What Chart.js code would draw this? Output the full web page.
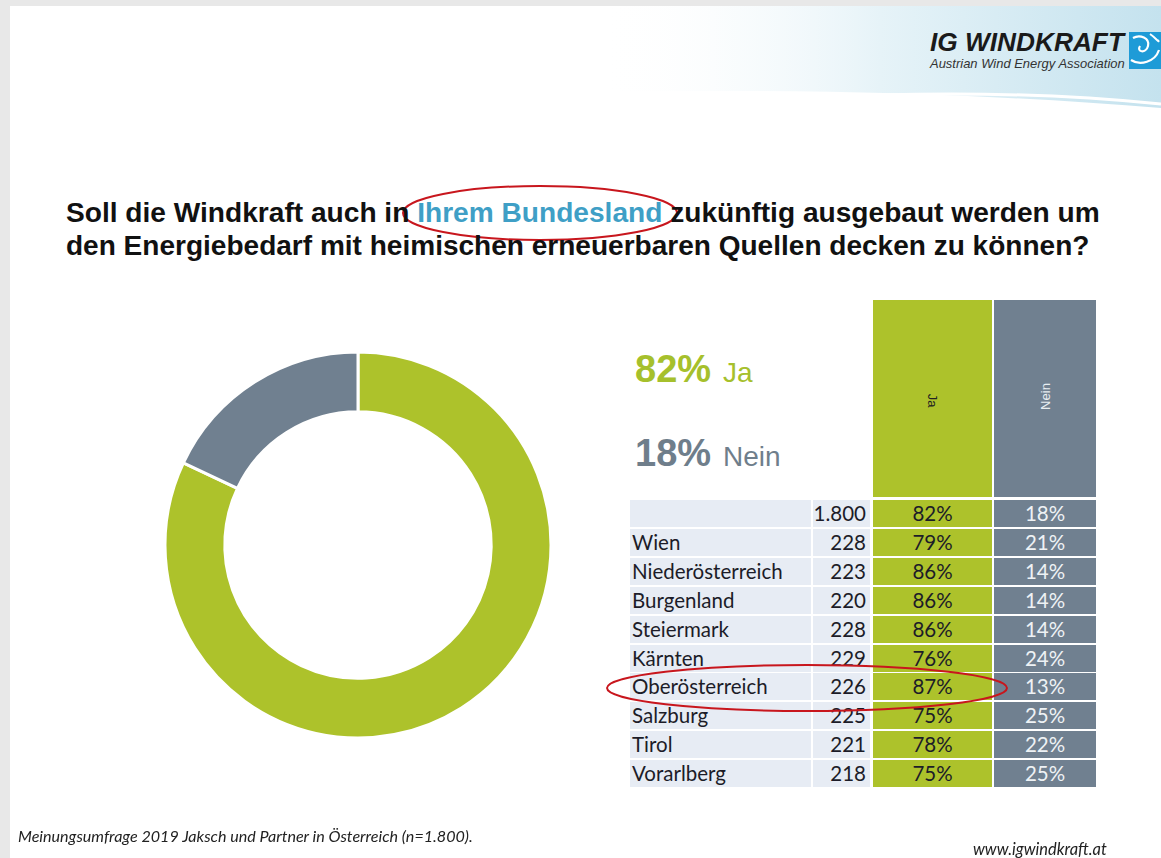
<!DOCTYPE html>
<html>
<head>
<meta charset="utf-8">
<script src="https://cdn.jsdelivr.net/npm/chart.js@4.4.1/dist/chart.umd.min.js"></script>
<style>
  html, body { margin:0; padding:0; width:1161px; height:858px; overflow:hidden; background:#e8e8e8; }
  #slide { position:absolute; left:10px; top:6px; width:1151px; height:852px; background:#fff; overflow:hidden; }
  .abs { position:absolute; white-space:nowrap; }
  .title { font-family:"Liberation Sans", Arial, Helvetica, sans-serif; font-weight:bold; font-size:26px; color:#111; line-height:1; }
  .cell { position:absolute; font-family:Lato, "Open Sans", sans-serif; font-size:20.5px; line-height:27px; height:27px; color:#1c1c28; }
  .fit { display:inline-block; }
</style>
</head>
<body>
<div id="slide"></div>
<div id="root" style="position:absolute;left:0;top:0;width:1161px;height:858px;">
  <svg class="abs" style="left:0;top:0" width="1161" height="858">
    <defs>
      <linearGradient id="sw" x1="0" y1="0" x2="1" y2="0">
        <stop offset="0" stop-color="#ffffff" stop-opacity="0"/>
        <stop offset="0.5" stop-color="#e6f3f8"/>
        <stop offset="1" stop-color="#c4e2ee"/>
      </linearGradient>
    </defs>
    <path d="M 600 6 L 1161 6 L 1161 108 C 1000 95, 820 88, 600 92 Z" fill="url(#sw)"/>
    <path d="M 880 95 C 980 92, 1080 96, 1161 104" stroke="#ffffff" stroke-width="3" fill="none"/>
    <rect x="1129" y="32" width="32" height="37" fill="#1e9bd7"/>
    <path d="M 1133 38 C 1140 34, 1150 38, 1148 46 C 1146 54, 1136 52, 1140 46" stroke="#fff" stroke-width="2.2" fill="none"/>
    <path d="M 1131 60 C 1140 66, 1155 62, 1159 50" stroke="#fff" stroke-width="2.2" fill="none"/>
    <path d="M 1150 34 C 1156 38, 1160 44, 1158 40" stroke="#fff" stroke-width="2" fill="none"/>
    <ellipse cx="540" cy="213" rx="137" ry="27" stroke="#c8161d" stroke-width="2" fill="none"/>
  </svg>
  <div class="abs fit" data-w="194" data-x="930" data-base="26" data-cy="42" style="font-family:'Liberation Sans',Arial,sans-serif;font-weight:bold;font-style:italic;color:#1a1a1a;line-height:1;">IG WINDKRAFT</div>
  <div class="abs fit" data-w="195" data-x="930" data-base="12" data-cy="63" style="font-family:'Liberation Sans',Arial,sans-serif;font-style:italic;color:#333;line-height:1;">Austrian Wind Energy Association</div>

  <div class="abs title fit" data-w="1034" data-x="66" data-base="26" data-cy="213">Soll die Windkraft auch in <span style="color:#3f9fc6">Ihrem Bundesland</span> zukünftig ausgebaut werden um</div>
  <div class="abs title fit" data-w="1024" data-x="66" data-base="26" data-cy="246">den Energiebedarf mit heimischen erneuerbaren Quellen decken zu können?</div>

  <div id="bigJa" class="abs" style="left:635px;top:350px;font-family:'Liberation Sans',Arial,sans-serif;color:#a6c02c;line-height:1;"></div>
  <div id="bigNein" class="abs" style="left:635px;top:434px;font-family:'Liberation Sans',Arial,sans-serif;color:#6f7e8b;line-height:1;"></div>

  <div id="table"></div>

  <div style="position:absolute;left:158px;top:345px;width:400px;height:400px;">
    <canvas id="donut" width="400" height="400"></canvas>
  </div>

  <svg class="abs" style="left:0;top:0;pointer-events:none" width="1161" height="858">
    <ellipse cx="807" cy="688" rx="200" ry="23" stroke="#c8161d" stroke-width="2" fill="none"/>
  </svg>

  <div class="abs fit" data-w="455" data-x="18" data-base="15" data-cy="836" style="font-family:Lato,'Open Sans',sans-serif;font-style:italic;color:#222;line-height:1;">Meinungsumfrage 2019 Jaksch und Partner in Österreich (n=1.800).</div>
  <div class="abs fit" data-w="134" data-x="973" data-base="15" data-cy="849" style="font-family:Lato,'Open Sans',sans-serif;font-style:italic;color:#222;line-height:1;">www.igwindkraft.at</div>
</div>

<script>
// ---- data ----
const donutLabels = ['Ja', 'Nein'];
const donutValues = [82, 18];
const regions = ['', 'Wien', 'Niederösterreich', 'Burgenland', 'Steiermark', 'Kärnten', 'Oberösterreich', 'Salzburg', 'Tirol', 'Vorarlberg'];
const sampleSizes = [1800, 228, 223, 220, 228, 229, 226, 225, 221, 218];
const jaPercent = [82, 79, 86, 86, 86, 76, 87, 75, 78, 75];
const neinPercent = [18, 21, 14, 14, 14, 24, 13, 25, 22, 25];
const columnHeaders = ['Ja', 'Nein'];

const GREEN = '#adc22b';
const GRAY = '#708090';
const LIGHT = '#e7ecf4';

function fmt(n) { return String(n).replace(/\B(?=(\d{3})+(?!\d))/g, '.'); }

// fit texts to measured widths
document.querySelectorAll('.fit').forEach(el => {
  const base = parseFloat(el.dataset.base);
  el.style.fontSize = base + 'px';
  const w = el.getBoundingClientRect().width;
  const fs = base * parseFloat(el.dataset.w) / w;
  el.style.fontSize = fs + 'px';
  el.style.left = el.dataset.x + 'px';
  const h = el.getBoundingClientRect().height;
  el.style.top = (parseFloat(el.dataset.cy) - h / 2) + 'px';
});

document.getElementById('bigJa').innerHTML =
  '<span style="font-weight:bold;font-size:38px">' + donutValues[0] + '%</span><span style="font-size:28px;margin-left:12px">' + donutLabels[0] + '</span>';
document.getElementById('bigNein').innerHTML =
  '<span style="font-weight:bold;font-size:38px">' + donutValues[1] + '%</span><span style="font-size:28px;margin-left:12px">' + donutLabels[1] + '</span>';

const t = document.getElementById('table');
function add(html, style) { const d = document.createElement('div'); d.className = 'cell'; d.innerHTML = html; Object.assign(d.style, style); t.appendChild(d); }
add('', {left:'873px', top:'300px', width:'119px', height:'197px', background:GREEN});
add('', {left:'994px', top:'300px', width:'102px', height:'197px', background:GRAY});
add(columnHeaders[0], {left:'873px', top:'387px', width:'119px', textAlign:'center', fontFamily:'"Liberation Sans",Arial,sans-serif', fontSize:'13px', color:'#222', transform:'rotate(90deg)'});
add(columnHeaders[1], {left:'994px', top:'383px', width:'102px', textAlign:'center', fontFamily:'"Liberation Sans",Arial,sans-serif', fontSize:'13px', color:'#e8eef2', transform:'rotate(-90deg)'});
regions.forEach((r, i) => {
  const top = (500 + i * 28.9) + 'px';
  add(r, {left:'630px', top, width:'181px', background:LIGHT, boxSizing:'border-box', textIndent:'2px'});
  add(fmt(sampleSizes[i]), {left:'813px', top, width:'57px', background:LIGHT, textAlign:'right', paddingRight:'4px', boxSizing:'border-box'});
  add(jaPercent[i] + '%', {left:'873px', top, width:'119px', background:GREEN, textAlign:'center'});
  add(neinPercent[i] + '%', {left:'994px', top, width:'102px', background:GRAY, textAlign:'center', color:'#eef2f5'});
});

new Chart(document.getElementById('donut'), {
  type: 'doughnut',
  data: {
    labels: donutLabels,
    datasets: [{
      data: donutValues,
      backgroundColor: [GREEN, GRAY],
      borderColor: '#ffffff',
      borderWidth: 3,
      radius: 193,
      cutout: 137
    }]
  },
  options: {
    responsive: false,
    animation: false,
    events: [],
    layout: { padding: 0 },
    plugins: { legend: { display: false }, tooltip: { enabled: false } }
  }
});
</script>
</body>
</html>
